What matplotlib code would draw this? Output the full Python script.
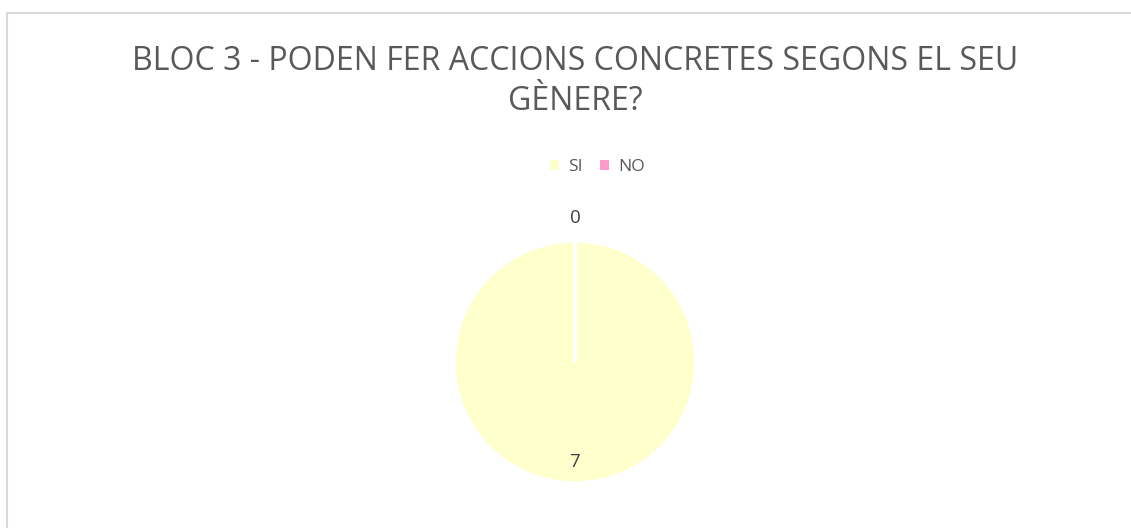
import matplotlib.pyplot as plt
import numpy as np
from matplotlib.lines import Line2D
from matplotlib.patches import Patch

plt.rcParams['font.family'] = ['Open Sans', 'DejaVu Sans']

categories = ['SI', 'NO']
values = [7, 0]
colors = ['#FFFFCC', '#FF99CC']
label_dist = [0.83, 1.19]

fig = plt.figure(figsize=(11.31, 5.28), dpi=100)

# chart frame (top and left edges only visible)
fig.add_artist(Line2D([7 / 1131, 7 / 1131], [0, 1 - 12.5 / 528], color='#D9D9D9', lw=1.5))
fig.add_artist(Line2D([7 / 1131, 1], [1 - 12.5 / 528, 1 - 12.5 / 528], color='#D9D9D9', lw=1.5))

fig.text(575 / 1131, 1 - 61 / 528, 'BLOC 3 - PODEN FER ACCIONS CONCRETES SEGONS EL SEU',
         ha='center', va='center', fontsize=23, color='#595959')
fig.text(575 / 1131, 1 - 102 / 528, 'GÈNERE?',
         ha='center', va='center', fontsize=23, color='#595959')

# pie: center (575, 362), radius 121 px
r = 121
cx, cy = 575, 362
ax = fig.add_axes([(cx - r) / 1131, 1 - (cy + r) / 528, 2 * r / 1131, 2 * r / 528])
wedges, _ = ax.pie(values, colors=colors, startangle=90, counterclock=False,
                   wedgeprops=dict(edgecolor='white', linewidth=2.5))
ax.set_xlim(-1, 1)
ax.set_ylim(-1, 1)
ax.set_aspect('equal')

for w, v, d in zip(wedges, values, label_dist):
    ang = np.deg2rad((w.theta1 + w.theta2) / 2)
    if v == 0:
        ang = np.deg2rad(w.theta1)
    ax.text(d * np.cos(ang), d * np.sin(ang), str(v), ha='center', va='center',
            fontsize=13.5, color='#404040', clip_on=False)

handles = [Patch(facecolor=c, edgecolor='none') for c in colors]
fig.legend(handles, categories, loc='center', bbox_to_anchor=(597 / 1131, 1 - 167 / 528),
           ncol=2, frameon=False, fontsize=12.5, labelcolor='#595959',
           handlelength=0.55, handleheight=0.55, handletextpad=0.5, columnspacing=1.0)

fig.savefig('out.png', dpi=100, facecolor='white')
